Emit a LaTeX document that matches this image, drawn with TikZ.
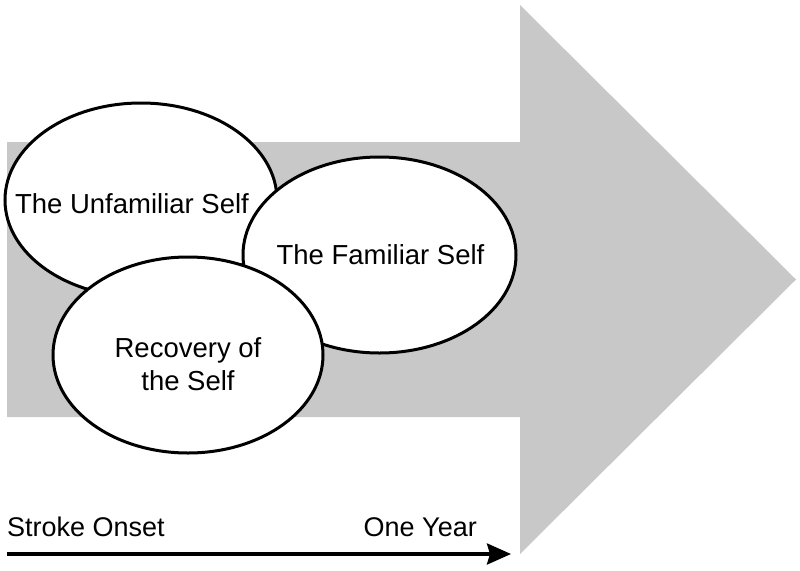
\documentclass[tikz,border=0pt]{standalone}
\usepackage{fontspec}
\setmainfont{Liberation Sans}
\usetikzlibrary{arrows.meta,shapes.geometric}
\definecolor{Progress}{HTML}{C8C8C8}
\definecolor{Ink}{HTML}{000000}

\begin{document}
\begin{tikzpicture}[x=1pt,y=-1pt,
    selfoval/.style={ellipse, draw=Ink, fill=white, line width=3pt, inner sep=0pt},
    selflabel/.style={inner sep=0pt, text=Ink, font=\fontsize{27.5}{33}\selectfont},
    timelabel/.style={inner sep=0pt, text=Ink, font=\fontsize{27}{32}\selectfont}
  ]

  \useasboundingbox (0,0) rectangle (800,570);

  % big grey arrow behind everything
  \fill[Progress]
    (7,142) -- (520,142) -- (520,5) -- (796,279.5)
    -- (520,554) -- (520,417) -- (7,417) -- cycle;

  % the three selves, later ones on top
  \node[selfoval, minimum width=272pt, minimum height=194pt] (unfam) at (141,200) {};
  \node[selflabel, anchor=base] (unfamtext) at (132,213) {The Unfamiliar Self};

  \node[selfoval, minimum width=273pt, minimum height=196pt] (fam) at (379.5,255) {};
  \node[selflabel, anchor=base] (famtext) at (380.5,264) {The Familiar Self};

  \node[selfoval, minimum width=270pt, minimum height=196pt] (recov) at (188,355) {};
  \node[selflabel, align=center] (recovtext) at (188,364) {Recovery of\\the Self};

  % time line
  \node[timelabel, anchor=base west] (onset) at (7,536) {Stroke Onset};
  \node[timelabel, anchor=base east] (year) at (477,536) {One Year};

  \coordinate (start) at (7,554);
  \coordinate (end) at (511,554);
  \draw[line width=3.5pt, -{Stealth[length=24pt, width=21pt, inset=3pt]}]
    (start) -- (end);

\end{tikzpicture}
\end{document}
